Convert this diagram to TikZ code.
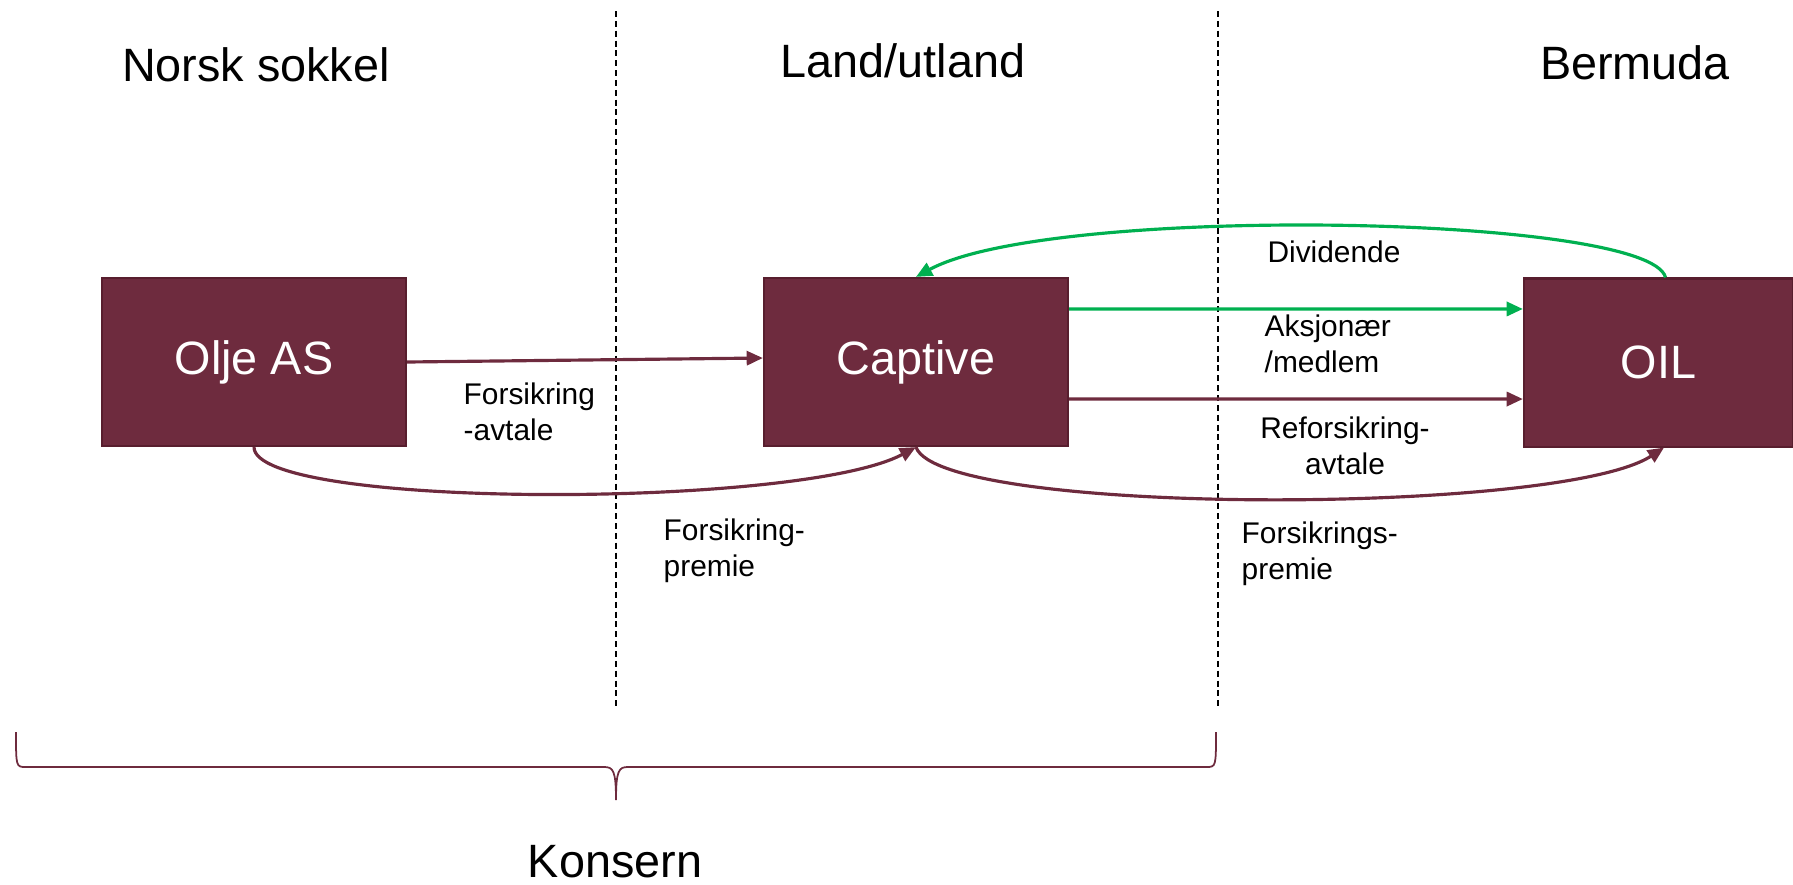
\documentclass[tikz,border=0pt]{standalone}
\usepackage{fontspec}
\setmainfont{Liberation Sans}
\usetikzlibrary{arrows.meta}
\definecolor{maroon}{RGB}{110,43,62}
\definecolor{maroonline}{RGB}{88,30,46}
\definecolor{grn}{RGB}{0,176,80}
\begin{document}
\begin{tikzpicture}[x=0.01cm,y=-0.01cm,
  company/.style={draw=maroonline,line width=0.6pt,fill=maroon,text=white,
    minimum height=1.68cm,inner sep=0pt,font=\fontsize{13.3}{16}\selectfont},
  bigtext/.style={font=\fontsize{13.3}{16}\selectfont,inner sep=0pt},
  smalltext/.style={font=\fontsize{8.5}{10.2}\selectfont,inner sep=0pt,align=left},
  flow/.style={draw=maroon,line width=0.9pt,-{Triangle[length=4.6pt,width=4pt]}},
  gflow/.style={draw=grn,line width=0.9pt,-{Triangle[length=4.6pt,width=4pt]}},
  divider/.style={draw=black,line width=0.45pt,dash pattern=on 1.7pt off 1.1pt},
  bracestyle/.style={draw=maroon,line width=0.5pt}]
\useasboundingbox (0,0) rectangle (1793,884);

% region titles
\node[bigtext] (tNorsk) at (256,65) {Norsk sokkel};
\node[bigtext] (tLand) at (903,61) {Land/utland};
\node[bigtext] (tBerm) at (1635,63) {Bermuda};
\node[bigtext] (tKons) at (615,862) {Konsern};

% dividers
\coordinate (d1a) at (616,11); \coordinate (d1b) at (616,708);
\coordinate (d2a) at (1218,11); \coordinate (d2b) at (1218,708);
\draw[divider] (d1a) -- (d1b);
\draw[divider] (d2a) -- (d2b);

% companies
\node[company,minimum width=3.04cm] (olje) at (254,362) {Olje AS};
\node[company,minimum width=3.04cm] (captive) at (916,362) {Captive};
\node[company,minimum width=2.69cm] (oil) at (1658.5,362.5) {OIL};

% connectors
\draw[flow] (olje.east) -- ([yshift=0.04cm]captive.west);
\draw[gflow] ([yshift=0.53cm]captive.east) -- ([yshift=0.535cm]oil.west);
\draw[flow] ([yshift=-0.37cm]captive.east) -- ([yshift=-0.365cm]oil.west);
\draw[gflow] ([xshift=0.07cm]oil.north) .. controls +(-16,-63) and +(134,-73) .. (captive.north);
\draw[flow] (olje.south) .. controls +(0,62) and +(-116,62) .. (captive.south);
\draw[flow] (captive.south) .. controls +(24,69) and +(-104,68) .. ([xshift=0.055cm]oil.south);

% labels
\node[smalltext,anchor=west] (lForsAvt) at (463,412) {Forsikring\\-avtale};
\node[smalltext,anchor=west] (lForsPrem) at (663,551) {Forsikring-\\premie};
\node[smalltext] (lDiv) at (1334,252) {Dividende};
\node[smalltext,anchor=west] (lAksj) at (1264,344) {Aksjonær\\/medlem};
\node[smalltext,align=center] (lRefors) at (1345,446) {Reforsikring-\\avtale};
\node[smalltext,anchor=west] (lForsPrem2) at (1241,554) {Forsikrings-\\premie};

% brace
\coordinate (bL) at (16,732);
\coordinate (bR) at (1216,732);
\coordinate (bT) at (616,800);
\draw[bracestyle] (bL) .. controls (16,767) and (16,767) .. (26,767) -- (604,767)
  .. controls (613,767) and (616,770) .. (bT)
  .. controls (616,770) and (619,767) .. (628,767) -- (1206,767)
  .. controls (1216,767) and (1216,767) .. (bR);
\end{tikzpicture}
\end{document}
